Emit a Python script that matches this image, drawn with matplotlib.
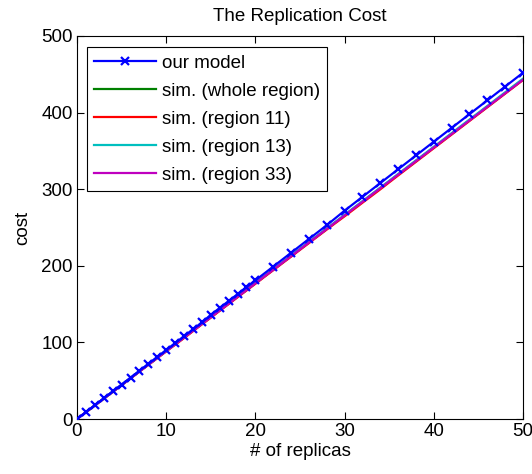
import numpy as np
import matplotlib
matplotlib.use('Agg')
import matplotlib.pyplot as plt

plt.rcParams['font.family'] = ['Liberation Sans', 'DejaVu Sans']

# our model: markers every replica up to 20, then every 2
model_x = [0, 1, 2, 3, 4, 5, 6, 7, 8, 9, 10, 11, 12, 13, 14, 15, 16, 17, 18, 19, 20,
           22, 24, 26, 28, 30, 32, 34, 36, 38, 40, 42, 44, 46, 48, 50]
model_cost = [0, 9, 18, 27, 36, 45, 54, 63, 72, 81, 90, 99, 108, 117, 126, 136, 145, 154, 163, 172, 181,
              199, 217, 235, 253, 272, 290, 308, 326, 344, 362, 380, 398, 416, 434, 452]

# simulations, one value per replica count 0..50
sim_x = list(range(51))
sim_whole = [0, 8.9, 17.8, 26.6, 35.5, 44.3, 53.2, 62.1, 70.9, 79.8, 88.6, 97.5, 106.4, 115.2, 124.1, 132.9,
             141.8, 150.7, 159.5, 168.4, 177.3, 186.1, 195.0, 203.9, 212.7, 221.6, 230.5, 239.3, 248.2, 257.0,
             265.9, 274.8, 283.6, 292.5, 301.4, 310.2, 319.1, 327.9, 336.8, 345.7, 354.5, 363.4, 372.3, 381.1,
             390.0, 398.8, 407.7, 416.6, 425.4, 434.3, 443.2]
sim_r11 = [0, 8.8, 17.6, 26.4, 35.3, 44.1, 52.9, 61.8, 70.6, 79.4, 88.3, 96.9, 105.6, 114.6, 123.5, 132.3,
           141.2, 150.0, 158.9, 167.7, 176.5, 185.4, 194.2, 203.1, 211.9, 220.8, 229.6, 238.5, 247.3, 256.0,
           264.6, 273.4, 282.3, 291.0, 299.8, 308.9, 317.9, 326.8, 335.7, 344.6, 353.5, 362.4, 371.3, 380.2,
           389.1, 398.0, 406.9, 415.8, 424.7, 433.6, 442.5]
sim_r13 = [0, 8.9, 17.8, 26.7, 35.6, 44.5, 53.4, 62.3, 71.1, 80.0, 88.9, 97.8, 106.7, 115.6, 124.4, 133.3,
           142.2, 151.1, 160.0, 168.9, 177.8, 186.6, 195.5, 204.4, 213.3, 222.2, 231.1, 239.9, 248.8, 257.7,
           266.6, 275.5, 284.4, 293.2, 302.1, 311.0, 319.9, 328.8, 337.7, 346.5, 355.4, 364.3, 373.2, 382.1,
           391.0, 399.8, 408.7, 417.6, 426.5, 435.4, 444.3]
sim_r33 = [0, 8.9, 17.7, 26.6, 35.4, 44.3, 53.2, 62.0, 70.9, 79.7, 88.6, 97.5, 106.3, 115.2, 124.0, 132.9,
           141.8, 150.6, 159.5, 168.3, 177.2, 186.1, 194.9, 203.8, 212.6, 221.5, 230.4, 239.2, 248.1, 256.9,
           265.8, 274.7, 283.5, 292.4, 301.2, 310.1, 319.0, 327.8, 336.7, 345.5, 354.4, 363.3, 372.1, 381.0,
           389.8, 398.7, 407.6, 416.4, 425.3, 434.1, 443.0]

x_ticks = [0, 10, 20, 30, 40, 50]
y_ticks = [0, 100, 200, 300, 400, 500]

fig = plt.figure(figsize=(5.32, 4.74), dpi=100)
ax = fig.add_axes([77 / 532, 55 / 474, 446 / 532, 383 / 474])

lw = 1.6
ax.plot(model_x, model_cost, color=(0, 0, 1), lw=lw, marker='x', ms=5.5, mew=1.6, label='our model', zorder=3)
ax.plot(sim_x, sim_whole, color=(0, 0.5, 0), lw=lw, label='sim. (whole region)')
ax.plot(sim_x, sim_r11, color=(1, 0, 0), lw=lw, label='sim. (region 11)')
ax.plot(sim_x, sim_r13, color=(0, 0.75, 0.75), lw=lw, label='sim. (region 13)')
ax.plot(sim_x, sim_r33, color=(0.75, 0, 0.75), lw=lw, label='sim. (region 33)')

ax.set_xlim(0, 50)
ax.set_ylim(0, 500)
ax.set_xticks(x_ticks)
ax.set_yticks(y_ticks)
ax.tick_params(direction='in', top=True, right=True, labelsize=13.5, length=5, width=0.8, pad=3)
for s in ax.spines.values():
    s.set_linewidth(0.8)

ax.set_xlabel('# of replicas', fontsize=13.5, labelpad=2)
ax.set_ylabel('cost', fontsize=13.5, labelpad=7)
ax.set_title('The Replication Cost', fontsize=13.5, pad=11)

leg = ax.legend(loc='upper left', bbox_to_anchor=(0.022, 0.971), fontsize=13.5, fancybox=False,
                edgecolor='black', framealpha=1, handlelength=3.3, borderpad=0.4,
                labelspacing=0.58, handletextpad=0.3, borderaxespad=0)
leg.get_frame().set_linewidth(0.8)

fig.savefig('out.png', dpi=100)
